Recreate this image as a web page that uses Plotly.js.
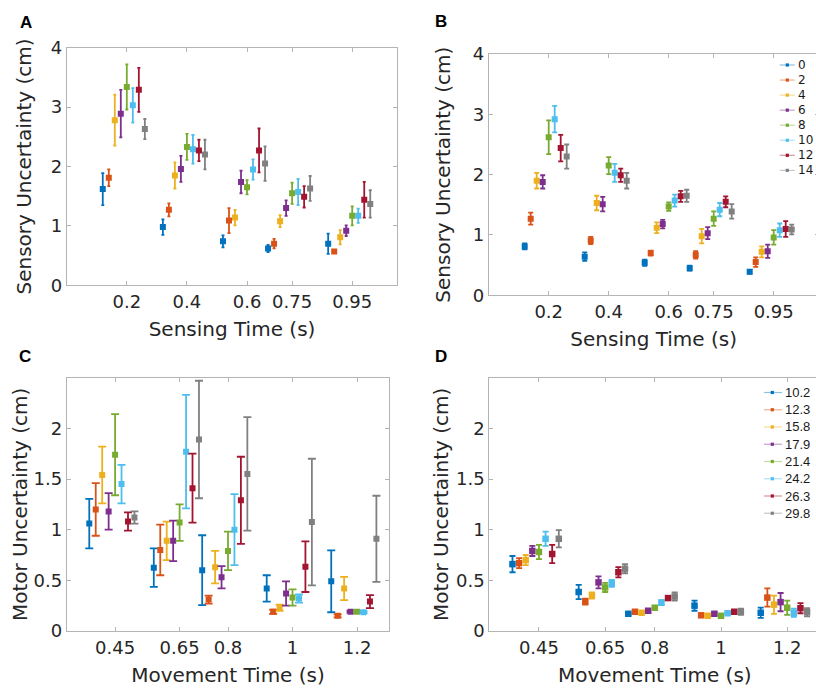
<!DOCTYPE html>
<html><head><meta charset="utf-8">
<script src="https://cdn.plot.ly/plotly-3.0.1.min.js"></script>
<style>html,body{margin:0;padding:0;overflow:hidden;background:#fff}#chart{width:830px;height:691px}</style>
</head><body><div id="chart"></div>
<script>
// ---------------- DATA ----------------
const sensingTimes = [0.2, 0.4, 0.6, 0.75, 0.95];
const sensingTickLabels = ['0.2', '0.4', '0.6', '0.75', '0.95'];
const movementTimes = [0.45, 0.65, 0.8, 1, 1.2];
const movementTickLabels = ['0.45', '0.65', '0.8', '1', '1.2'];
const sensoryYTicks = [0, 1, 2, 3, 4];
const motorYTicks = [0, 0.5, 1, 1.5, 2];
const motorYTickLabels = ['0', '0.5', '1', '1.5', '2'];
const legendLabelsB = ['0', '2', '4', '6', '8', '10', '12', '14'];
const legendLabelsD = ['10.2', '12.3', '15.8', '17.9', '21.4', '24.2', '26.3', '29.8'];

// Panel A – one row per series, one value per sensing time
const meanA = [
  [1.62, 0.98, 0.74, 0.62, 0.70],
  [1.81, 1.27, 1.09, 0.70, 0.57],
  [2.78, 1.85, 1.14, 1.08, 0.81],
  [2.89, 1.96, 1.74, 1.30, 0.92],
  [3.34, 2.33, 1.65, 1.55, 1.17],
  [3.03, 2.29, 1.95, 1.57, 1.17],
  [3.29, 2.27, 2.27, 1.49, 1.44],
  [2.63, 2.20, 2.05, 1.63, 1.37]
];
const errA = [
  [0.27, 0.13, 0.10, 0.06, 0.17],
  [0.14, 0.11, 0.21, 0.08, 0.02],
  [0.43, 0.22, 0.13, 0.10, 0.12],
  [0.40, 0.22, 0.19, 0.13, 0.09],
  [0.38, 0.22, 0.12, 0.18, 0.16],
  [0.29, 0.24, 0.17, 0.22, 0.12],
  [0.37, 0.18, 0.37, 0.18, 0.30],
  [0.17, 0.25, 0.29, 0.21, 0.23]
];
// Panel B
const meanB = [
  [0.81, 0.64, 0.54, 0.45, 0.39],
  [1.27, 0.91, 0.70, 0.67, 0.55],
  [1.90, 1.53, 1.12, 0.98, 0.72],
  [1.88, 1.51, 1.18, 1.03, 0.73],
  [2.62, 2.15, 1.47, 1.27, 0.96],
  [2.92, 2.03, 1.57, 1.42, 1.08],
  [2.44, 1.99, 1.64, 1.55, 1.10],
  [2.30, 1.90, 1.65, 1.39, 1.09]
];
const errB = [
  [0.05, 0.07, 0.05, 0.04, 0.03],
  [0.10, 0.06, 0.04, 0.06, 0.08],
  [0.13, 0.12, 0.09, 0.12, 0.09],
  [0.11, 0.12, 0.07, 0.10, 0.11],
  [0.28, 0.14, 0.07, 0.12, 0.12],
  [0.22, 0.15, 0.10, 0.11, 0.11],
  [0.22, 0.11, 0.09, 0.09, 0.13],
  [0.20, 0.13, 0.10, 0.12, 0.08]
];
// Panel C – one row per series, one value per movement time
const meanC = [
  [1.06, 0.625, 0.60, 0.42, 0.49],
  [1.20, 0.80, 0.31, 0.19, 0.15],
  [1.54, 0.89, 0.63, 0.23, 0.42],
  [1.18, 0.89, 0.53, 0.37, 0.19],
  [1.74, 1.07, 0.79, 0.33, 0.19],
  [1.45, 1.77, 1.00, 0.32, 0.185],
  [1.08, 1.41, 1.29, 0.635, 0.29],
  [1.12, 1.89, 1.55, 1.075, 0.91]
];
const errC = [
  [0.245, 0.19, 0.345, 0.13, 0.305],
  [0.26, 0.25, 0.04, 0.02, 0.015],
  [0.28, 0.19, 0.16, 0.03, 0.115],
  [0.18, 0.20, 0.11, 0.12, 0.01],
  [0.40, 0.18, 0.19, 0.08, 0.01],
  [0.19, 0.56, 0.35, 0.04, 0.01],
  [0.09, 0.34, 0.43, 0.25, 0.065],
  [0.06, 0.58, 0.56, 0.625, 0.425]
];
// Panel D
const meanD = [
  [0.66, 0.385, 0.17, 0.25, 0.18],
  [0.67, 0.29, 0.19, 0.155, 0.33],
  [0.70, 0.35, 0.18, 0.15, 0.26],
  [0.79, 0.48, 0.20, 0.17, 0.285],
  [0.78, 0.43, 0.23, 0.15, 0.23],
  [0.91, 0.47, 0.28, 0.175, 0.18],
  [0.76, 0.58, 0.325, 0.19, 0.225],
  [0.91, 0.615, 0.34, 0.19, 0.185]
];
const errD = [
  [0.08, 0.07, 0.01, 0.05, 0.05],
  [0.05, 0.03, 0.01, 0.01, 0.09],
  [0.05, 0.03, 0.01, 0.01, 0.09],
  [0.05, 0.06, 0.015, 0.015, 0.09],
  [0.07, 0.045, 0.015, 0.015, 0.07],
  [0.07, 0.035, 0.025, 0.01, 0.04],
  [0.09, 0.05, 0.015, 0.015, 0.05],
  [0.085, 0.045, 0.04, 0.03, 0.04]
];

// ---------------- STYLE / LAYOUT ----------------
const colors = ['#0072BD', '#D95319', '#EDB120', '#7E2F8E', '#77AC30', '#4DBEEE', '#A2142F', '#808080'];
const W = 830, H = 691;
const dodge = 0.02;
const TXT = '#262626', FRAME = '#b4b4b4';
const boxes = { // pixel boxes [left, right, top, bottom]
  A: [66.7, 397.3, 47.7, 285.3],
  B: [488.7, 818.7, 54, 295.3],
  C: [66.7, 389.3, 377.7, 631],
  D: [489.3, 820.3, 377.7, 631]
};
const px = v => v / W, py = v => 1 - v / H;

const traces = [];
function addPanel(means, errs, times, ax, capW, msize) {
  means.forEach((row, i) => {
    traces.push({
      type: 'scatter', mode: 'markers',
      x: times.map(t => t + (i - 4) * dodge), y: row,
      xaxis: 'x' + ax, yaxis: 'y' + ax,
      marker: { symbol: 'square', size: msize, color: colors[i] },
      error_y: { type: 'data', array: errs[i], visible: true, color: colors[i], thickness: 1.8, width: capW },
      showlegend: false, hoverinfo: 'x+y'
    });
  });
}
addPanel(meanA, errA, sensingTimes, '', 1.5, 6);
addPanel(meanB, errB, sensingTimes, '2', 2.5, 6);
addPanel(meanC, errC, movementTimes, '3', 4, 6);
addPanel(meanD, errD, movementTimes, '4', 3, 6.5);

function xAxis(box, range, vals, text, title, anchor, standoff) {
  return {
    domain: [px(box[0]), px(box[1])], range: range, anchor: anchor,
    tickmode: 'array', tickvals: vals, ticktext: text,
    showline: true, linecolor: FRAME, linewidth: 1, mirror: 'ticks',
    ticks: 'inside', ticklen: 4, tickcolor: FRAME,
    showgrid: false, zeroline: false,
    tickfont: { family: 'DejaVu Sans', size: 18, color: TXT },
    title: { text: title, font: { family: 'DejaVu Sans', size: 20, color: TXT }, standoff: standoff },
    fixedrange: true
  };
}
function yAxis(box, range, vals, text, title, anchor, standoff) {
  return {
    domain: [py(box[3]), py(box[2])], range: range, anchor: anchor,
    tickmode: 'array', tickvals: vals, ticktext: text,
    showline: true, linecolor: FRAME, linewidth: 1, mirror: 'ticks',
    ticks: 'inside', ticklen: 4, tickcolor: FRAME,
    showgrid: false, zeroline: false,
    tickfont: { family: 'DejaVu Sans', size: 18, color: TXT },
    title: { text: title, font: { family: 'DejaVu Sans', size: 20, color: TXT }, standoff: standoff },
    fixedrange: true
  };
}
const sensTitle = 'Sensing Time (s)', motTitle = 'Movement Time (s)';
const sensY = 'Sensory Uncertainty (cm)', motY = 'Motor Uncertainty (cm)';
const sensYText = sensoryYTicks.map(String);

const layout = {
  width: W, height: H,
  margin: { l: 0, r: 0, t: 0, b: 0 },
  paper_bgcolor: '#fff', plot_bgcolor: '#fff',
  showlegend: false,
  xaxis: xAxis(boxes.A, [0, 1.1], sensingTimes, sensingTickLabels, sensTitle, 'y', 11),
  yaxis: yAxis(boxes.A, [0, 4], sensoryYTicks, sensYText, sensY, 'x', 13),
  xaxis2: xAxis(boxes.B, [0, 1.1], sensingTimes, sensingTickLabels, sensTitle, 'y2', 11),
  yaxis2: yAxis(boxes.B, [0, 4], sensoryYTicks, sensYText, sensY, 'x2', 16),
  xaxis3: xAxis(boxes.C, [0.3, 1.3], movementTimes, movementTickLabels, motTitle, 'y3', 11),
  yaxis3: yAxis(boxes.C, [0, 2.5], motorYTicks, motorYTickLabels, motY, 'x3', 0),
  xaxis4: xAxis(boxes.D, [0.3, 1.3], movementTimes, movementTickLabels, motTitle, 'y4', 11),
  yaxis4: yAxis(boxes.D, [0, 2.5], motorYTicks, motorYTickLabels, motY, 'x4', 2),
  annotations: [],
  shapes: []
};

// panel letters
[['A', 25.5, 22.5], ['B', 440.5, 21.5], ['C', 25, 356.5], ['D', 440.5, 356.5]].forEach(l => {
  layout.annotations.push({
    xref: 'paper', yref: 'paper', x: px(l[1]), y: py(l[2]), xanchor: 'center', yanchor: 'middle',
    text: '<b>' + l[0] + '</b>', showarrow: false,
    font: { family: 'Liberation Sans', size: 17, color: '#000' }
  });
});

// legends (drawn as line sample + marker + label)
function hexA(c, a) {
  const r = parseInt(c.slice(1, 3), 16), g = parseInt(c.slice(3, 5), 16), b = parseInt(c.slice(5, 7), 16);
  return 'rgba(' + r + ',' + g + ',' + b + ',' + a + ')';
}
function addLegend(labels, x0, x1, xm, xt, y0, dy, font, fsize) {
  labels.forEach((lab, i) => {
    const y = y0 + i * dy;
    layout.shapes.push({ type: 'line', xref: 'paper', yref: 'paper', x0: px(x0), x1: px(x1), y0: py(y), y1: py(y),
      line: { color: hexA(colors[i], 0.45), width: 1.2 } });
    layout.shapes.push({ type: 'rect', xref: 'paper', yref: 'paper', x0: px(xm - 1.6), x1: px(xm + 1.6), y0: py(y - 1.6), y1: py(y + 1.6),
      line: { width: 0 }, fillcolor: colors[i] });
    layout.annotations.push({ xref: 'paper', yref: 'paper', x: px(xt), y: py(y), xanchor: 'left', yanchor: 'middle',
      text: lab, showarrow: false, font: { family: font, size: fsize, color: '#1a1a1a' } });
  });
}
addLegend(legendLabelsB, 779.7, 794.7, 787.3, 795.5, 65, 15.05, 'DejaVu Sans', 12);
addLegend(legendLabelsD, 764, 782, 772.3, 782.5, 392.5, 17.25, 'Liberation Sans', 13);

Plotly.newPlot('chart', traces, layout, { staticPlot: true, displayModeBar: false });
</script>
</body></html>
